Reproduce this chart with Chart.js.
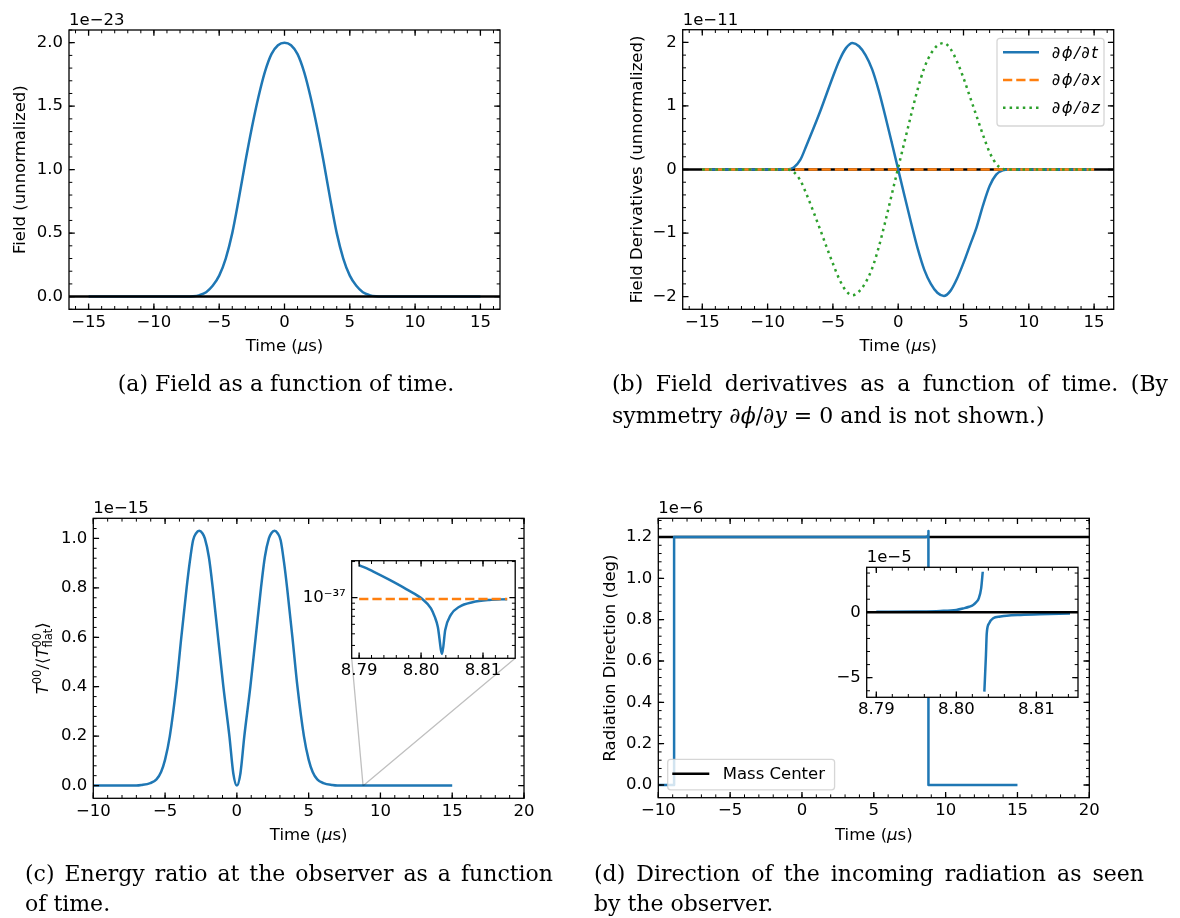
<!DOCTYPE html>
<html lang="en">
<head>
<meta charset="utf-8">
<title>Field, derivatives, energy ratio and radiation direction</title>
<script src="https://cdn.jsdelivr.net/npm/chart.js@4.4.1/dist/chart.umd.min.js"></script>
<style>
  body { margin: 0; background: #fff; }
  #page { position: relative; width: 1180px; height: 918px; overflow: hidden; background: #fff; }
  #page canvas { position: absolute; left: 0; top: 0; }
  .cap { position: absolute; font-family: "DejaVu Serif", serif; font-size: 22px; color: #000; }
  .just { text-align: justify; text-align-last: justify; }
</style>
</head>
<body>
<div id="page">
  <canvas id="figA" width="1180" height="918"></canvas>
  <canvas id="figB" width="1180" height="918"></canvas>
  <canvas id="figC" width="1180" height="918"></canvas>
  <canvas id="figD" width="1180" height="918"></canvas>
  <canvas id="zoomC" width="1180" height="918"></canvas>
  <canvas id="zoomD" width="1180" height="918"></canvas>

  <div class="cap" style="left:0;top:368px;width:572px;line-height:32px;text-align:center">(a) Field as a function of time.</div>
  <div class="cap" style="left:612px;top:368px;width:556px;line-height:32px">
    <div class="just">(b) Field derivatives as a function of time. (By</div>
    <div>symmetry <i>∂ϕ</i>/<i>∂y</i> = 0 and is not shown.)</div>
  </div>
  <div class="cap" style="left:25px;top:859px;width:528px;line-height:30px">
    <div class="just">(c) Energy ratio at the observer as a function</div>
    <div>of time.</div>
  </div>
  <div class="cap" style="left:594px;top:859px;width:550px;line-height:30px">
    <div class="just">(d) Direction of the incoming radiation as seen</div>
    <div>by the observer.</div>
  </div>
</div>
<script>
// ---------- data ----------
// (a) field at the observer, units of 1e-23
const fieldT = [-15, -7.5, -7, -6.5, -6, -5.5, -5, -4.5, -4, -3.5, -3, -2.5, -2, -1.5, -1, -0.5, 0,
                0.5, 1, 1.5, 2, 2.5, 3, 3.5, 4, 4.5, 5, 5.5, 6, 6.5, 7, 7.5, 15];
const fieldV = [0, 0, 0.002, 0.012, 0.035, 0.085, 0.165, 0.30, 0.50, 0.77, 1.06, 1.33, 1.57, 1.77, 1.91, 1.98, 2.0,
                1.98, 1.91, 1.77, 1.57, 1.33, 1.06, 0.77, 0.50, 0.30, 0.165, 0.085, 0.035, 0.012, 0.002, 0, 0];

// (b) field derivatives, units of 1e-11
const derivT = [-15, -10, -8.5, -8, -7.5, -7, -6.5, -6, -5.5, -5, -4.5, -4, -3.5, -3, -2.5, -2, -1.5, -1, -0.5, 0,
                0.5, 1, 1.5, 2, 2.5, 3, 3.5, 4, 4.5, 5, 5.5, 6, 6.5, 7, 7.5, 8, 8.5, 10, 15];
const dPhiDt = [0, 0, 0, 0.03, 0.15, 0.39, 0.64, 0.90, 1.18, 1.46, 1.72, 1.91, 1.99, 1.94, 1.80, 1.58, 1.25, 0.85, 0.43, 0,
                -0.43, -0.85, -1.25, -1.58, -1.80, -1.94, -1.99, -1.91, -1.72, -1.47, -1.19, -0.91, -0.56, -0.26, -0.08, -0.015, 0, 0, 0];
const dPhiDz = [0, 0, 0, -0.04, -0.17, -0.40, -0.66, -0.93, -1.21, -1.48, -1.73, -1.91, -1.98, -1.92, -1.78, -1.56, -1.23, -0.83, -0.40, 0.03,
                0.45, 0.87, 1.27, 1.60, 1.82, 1.95, 1.99, 1.90, 1.70, 1.44, 1.14, 0.84, 0.54, 0.27, 0.09, 0.01, 0, 0, 0];
const dPhiDxT = [-15, 15];
const dPhiDx = [0, 0];

// (c) energy ratio, units of 1e-15
const energyT = [-15, -7, -6.65, -6.03, -5.6, -5.28, -5.0, -4.67, -4.22, -3.87, -3.5, -3.28, -3.05, -2.85, -2.62, -2.4, -2.23, -1.95, -1.68, -1.31, -0.94, -0.52, -0.25, 0,
                 0.25, 0.52, 0.94, 1.31, 1.68, 1.95, 2.23, 2.4, 2.62, 2.85, 3.05, 3.28, 3.5, 3.87, 4.22, 4.67, 5.0, 5.28, 5.6, 6.03, 6.65, 7, 15];
const energyV = [0, 0, 0.002, 0.01, 0.025, 0.055, 0.105, 0.2, 0.4, 0.6, 0.8, 0.905, 0.993, 1.02, 1.031, 1.021, 1.0, 0.925, 0.8, 0.6, 0.4, 0.2, 0.05, 0,
                 0.05, 0.2, 0.4, 0.6, 0.8, 0.925, 1.0, 1.021, 1.031, 1.02, 0.993, 0.905, 0.8, 0.6, 0.4, 0.2, 0.105, 0.055, 0.025, 0.01, 0.002, 0, 0];

// (c) inset around 8.8 us, absolute values on a log axis
const zoomCT = [8.7900, 8.7923, 8.7950, 8.7976, 8.8002, 8.8016, 8.8022, 8.8027, 8.8034, 8.8039, 8.8048, 8.8062, 8.8083, 8.8110, 8.8139];
const zoomCV = [1.87e-37, 1.65e-37, 1.40e-37, 1.18e-37, 9.75e-38, 8.16e-38, 6.95e-38, 5.73e-38, 3.40e-38, 5.38e-38, 7.18e-38, 8.41e-38, 9.16e-38, 9.57e-38, 9.72e-38];
const flatT = [8.7900, 8.8139];
const flatV = [9.75e-38, 9.75e-38];

// (d) radiation direction, units of 1e-6 deg
const dirT = [-15, -8.9, -8.9, 8.6, 8.75, 8.8, 8.8033, 8.8035, 15];
const dirV = [0, 0, 1.2, 1.2, 1.203, 1.212, 1.229, 0, 0];
const massT = [-10, 20];
const massV = [1.2, 1.2];

// (d) inset around 8.8 us, units of 1e-5
const zoomDUpT = [8.7900, 8.7950, 8.7980, 8.8000, 8.8009, 8.8016, 8.8021, 8.8025, 8.8028, 8.8031, 8.8033];
const zoomDUpV = [0.04, 0.06, 0.10, 0.18, 0.30, 0.42, 0.56, 0.78, 1.07, 1.83, 3.1];
const zoomDLowT = [8.8035, 8.8037, 8.8038, 8.8041, 8.8046, 8.8055, 8.8063, 8.8080, 8.8104, 8.8142];
const zoomDLowV = [-6.07, -3.26, -1.61, -0.84, -0.46, -0.33, -0.26, -0.20, -0.15, -0.10];
const zoomMassT = [8.7888, 8.8152];
const zoomMassV = [0, 0];

// ---------- ticks ----------
const abXTicks = [-15, -10, -5, 0, 5, 10, 15];
const abXLabels = ['−15', '−10', '−5', '0', '5', '10', '15'];
const aYTicks = [0, 0.5, 1, 1.5, 2];
const aYLabels = ['0.0', '0.5', '1.0', '1.5', '2.0'];
const bYTicks = [-2, -1, 0, 1, 2];
const bYLabels = ['−2', '−1', '0', '1', '2'];
const cdXTicks = [-10, -5, 0, 5, 10, 15, 20];
const cdXLabels = ['−10', '−5', '0', '5', '10', '15', '20'];
const cYTicks = [0, 0.2, 0.4, 0.6, 0.8, 1.0];
const cYLabels = ['0.0', '0.2', '0.4', '0.6', '0.8', '1.0'];
const dYTicks = [0, 0.2, 0.4, 0.6, 0.8, 1.0, 1.2];
const dYLabels = ['0.0', '0.2', '0.4', '0.6', '0.8', '1.0', '1.2'];
const zoomXTicks = [8.79, 8.80, 8.81];
const zoomXLabels = ['8.79', '8.80', '8.81'];
const zoomCYTicks = [1e-37];
const zoomCYLabels = ['10⁻³⁷'];
const zoomDYTicks = [-5, 0];
const zoomDYLabels = ['−5', '0'];

// ---------- layout ----------
const W = 1180, H = 918, YW = 60, XH = 50;
const BOX_A = { l: 69, t: 30, r: 500, b: 309.3 };
const BOX_B = { l: 682.7, t: 29.7, r: 1113.7, b: 309.3 };
const BOX_C = { l: 93.3, t: 518.3, r: 524, b: 798.3 };
const BOX_D = { l: 658.3, t: 518.3, r: 1089.3, b: 797.7 };
const BOX_ZC = { l: 351.7, t: 560.7, r: 515.2, b: 658.3 };
const BOX_ZD = { l: 866.7, t: 567.3, r: 1078, b: 697.3 };
const ZOOM_X = [8.7888, 8.8152];

const BLUE = '#1f77b4', ORANGE = '#ff7f0e', GREEN = '#2ca02c';
const fnt = (size, italic) => (italic ? 'italic ' : '') + size + 'px "DejaVu Sans"';

function pts(T, V) { return T.map((t, i) => ({ x: t, y: V[i] })); }
function steps(a, b, s) {
  const out = [];
  for (let v = a; v <= b + s / 1000; v += s) out.push(+v.toFixed(6));
  return out;
}

function line(T, V, color, extra) {
  return Object.assign({
    data: pts(T, V), showLine: true, borderColor: color, borderWidth: 2.5,
    pointRadius: 0, fill: false, tension: 0, borderCapStyle: 'butt', borderJoinStyle: 'round'
  }, extra || {});
}
const smooth = { cubicInterpolationMode: 'monotone' };

function axis(min, max, ticks, labels, pad, isX, type) {
  return {
    type: type || 'linear', min, max, bounds: 'data', position: isX ? 'bottom' : 'left',
    grid: { display: false, drawTicks: false }, border: { display: false },
    ticks: {
      autoSkip: false, maxRotation: 0, minRotation: 0, padding: pad, color: '#000',
      font: { family: 'DejaVu Sans', size: 16.5 },
      callback: (v, i) => labels[i]
    },
    afterBuildTicks: s => { s.ticks = ticks.map(v => ({ value: v })); },
    afterFit: s => { if (isX) s.height = XH; else s.width = YW; }
  };
}

function richText(ctx, parts, x, y, align, rot) {
  ctx.save();
  ctx.translate(x, y);
  if (rot) ctx.rotate(rot);
  ctx.textAlign = 'left';
  ctx.textBaseline = 'alphabetic';
  let w = 0;
  parts.forEach(p => { ctx.font = p[1]; if (!p[3]) w += ctx.measureText(p[0]).width; });
  let cx = align === 'center' ? -w / 2 : 0;
  parts.forEach(p => {
    ctx.font = p[1];
    ctx.fillText(p[0], cx, p[2] || 0);
    if (!p[3]) cx += ctx.measureText(p[0]).width;
  });
  ctx.restore();
}

function tickMarks(ctx, a, sc, vals, len, lw) {
  ctx.lineWidth = lw;
  ctx.beginPath();
  vals.forEach(v => {
    const p = sc.getPixelForValue(v);
    if (sc.isHorizontal()) {
      if (p < a.left - 0.5 || p > a.right + 0.5) return;
      ctx.moveTo(p, a.bottom); ctx.lineTo(p, a.bottom - len);
      ctx.moveTo(p, a.top); ctx.lineTo(p, a.top + len);
    } else {
      if (p < a.top - 0.5 || p > a.bottom + 0.5) return;
      ctx.moveTo(a.left, p); ctx.lineTo(a.left + len, p);
      ctx.moveTo(a.right, p); ctx.lineTo(a.right - len, p);
    }
  });
  ctx.stroke();
}

function drawLegend(ctx, L) {
  ctx.save();
  ctx.beginPath();
  if (ctx.roundRect) ctx.roundRect(L.x, L.y, L.w, L.h, 3); else ctx.rect(L.x, L.y, L.w, L.h);
  ctx.fillStyle = 'rgba(255,255,255,0.8)';
  ctx.fill();
  ctx.lineWidth = 1.3;
  ctx.strokeStyle = 'rgba(204,204,204,0.8)';
  ctx.stroke();
  L.items.forEach((it, i) => {
    const yy = L.rows[i];
    ctx.beginPath();
    ctx.setLineDash(it.dash || []);
    ctx.lineCap = 'butt';
    ctx.strokeStyle = it.color;
    ctx.lineWidth = 2.5;
    ctx.moveTo(L.hx1, yy); ctx.lineTo(L.hx2, yy);
    ctx.stroke();
    ctx.setLineDash([]);
    ctx.fillStyle = '#000';
    ctx.font = it.font;
    ctx.textBaseline = 'middle';
    ctx.textAlign = 'left';
    if ('letterSpacing' in ctx) ctx.letterSpacing = (it.spacing || 0) + 'px';
    ctx.fillText(it.label, L.tx, yy + 1);
    if ('letterSpacing' in ctx) ctx.letterSpacing = '0px';
  });
  ctx.restore();
}

// matplotlib-style frame: inward ticks on all sides, offset text, titles, legend
function mplAxes(d) {
  return {
    id: 'mplAxes',
    beforeDraw(chart) {
      if (!d.white) return;
      const a = chart.chartArea, ctx = chart.ctx;
      ctx.save();
      ctx.fillStyle = '#fff';
      ctx.fillRect(a.left, a.top, a.width, a.height);
      ctx.restore();
    },
    afterDatasetsDraw(chart) { if (d.under) d.under(chart); },
    afterDraw(chart) {
      const { ctx, chartArea: a, scales: { x, y } } = chart;
      ctx.save();
      ctx.strokeStyle = '#000';
      tickMarks(ctx, a, x, d.xMinor || [], 3.3, 1);
      tickMarks(ctx, a, y, d.yMinor || [], 3.3, 1);
      tickMarks(ctx, a, x, x.ticks.map(t => t.value), 5.8, 1.3);
      tickMarks(ctx, a, y, y.ticks.map(t => t.value), 5.8, 1.3);
      ctx.lineWidth = 1.3;
      ctx.strokeRect(a.left, a.top, a.width, a.height);
      ctx.fillStyle = '#000';
      if (d.offset) richText(ctx, [[d.offset, fnt(16.5)]], a.left, a.top - 5, 'left');
      if (d.xTitle) richText(ctx, d.xTitle, (a.left + a.right) / 2, a.bottom + 42, 'center');
      if (d.yTitle) richText(ctx, d.yTitle, a.left + d.yTitleDx, (a.top + a.bottom) / 2, 'center', -Math.PI / 2);
      if (d.legend) drawLegend(ctx, d.legend);
      ctx.restore();
    }
  };
}

function panel(id, box, xAxis, yAxis, datasets, deco) {
  return new Chart(document.getElementById(id), {
    type: 'scatter',
    data: { datasets },
    options: {
      responsive: false, animation: false, devicePixelRatio: 1, events: [],
      layout: { padding: { left: box.l - YW, top: box.t, right: W - box.r, bottom: H - box.b - XH } },
      scales: { x: xAxis, y: yAxis },
      plugins: { legend: { display: false }, tooltip: { enabled: false } }
    },
    plugins: [mplAxes(deco)]
  });
}

const timeTitle = [['Time (', fnt(16.5)], ['μ', fnt(16.5, true)], ['s)', fnt(16.5)]];

// (a)
panel('figA', BOX_A,
  axis(-16.5, 16.5, abXTicks, abXLabels, 3.5, true),
  axis(-0.1, 2.1, aYTicks, aYLabels, 6, false),
  [
    line([-16.5, 16.5], [0, 0], '#000'),
    line(fieldT, fieldV, BLUE, smooth)
  ],
  {
    xMinor: steps(-16, 16, 1), yMinor: steps(-0.1, 2.1, 0.1), offset: '1e−23',
    xTitle: timeTitle, yTitle: [['Field (unnormalized)', fnt(16.5)]], yTitleDx: -44
  });

// (b)
panel('figB', BOX_B,
  axis(-16.5, 16.5, abXTicks, abXLabels, 3.5, true),
  axis(-2.2, 2.2, bYTicks, bYLabels, 6, false),
  [
    line(derivT, dPhiDz, GREEN, Object.assign({ borderDash: [2.5, 4.1] }, smooth)),
    line(dPhiDxT, dPhiDx, ORANGE, { borderDash: [9.25, 4] }),
    line(derivT, dPhiDt, BLUE, smooth),
    line([-16.5, 16.5], [0, 0], '#000')
  ],
  {
    xMinor: steps(-16, 16, 1), yMinor: steps(-2.2, 2.2, 0.2), offset: '1e−11',
    xTitle: timeTitle, yTitle: [['Field Derivatives (unnormalized)', fnt(16.5)]], yTitleDx: -41.2,
    legend: {
      x: 997, y: 38.3, w: 107, h: 87.7, hx1: 1003, hx2: 1039, tx: 1051.8, rows: [52.3, 80, 107.7],
      items: [
        { label: '∂ϕ/∂t', color: BLUE, font: fnt(16.5, true), spacing: 1.5 },
        { label: '∂ϕ/∂x', color: ORANGE, dash: [9.25, 4], font: fnt(16.5, true), spacing: 1.5 },
        { label: '∂ϕ/∂z', color: GREEN, dash: [2.5, 4.1], font: fnt(16.5, true), spacing: 1.5 }
      ]
    }
  });

// (c)
panel('figC', BOX_C,
  axis(-10, 20, cdXTicks, cdXLabels, 3.5, true),
  axis(-0.0515, 1.0815, cYTicks, cYLabels, 6, false),
  [line(energyT, energyV, BLUE, smooth)],
  {
    xMinor: steps(-10, 20, 1), yMinor: steps(0, 1.08, 0.04), offset: '1e−15',
    xTitle: timeTitle,
    yTitle: [
      ['T', fnt(16.5, true)], ['00', fnt(11.5), -7], ['/⟨', fnt(16.5)], ['T', fnt(16.5, true)],
      ['00', fnt(11.5), -7, true], ['flat', fnt(11.5), 4], ['⟩', fnt(16.5)]
    ],
    yTitleDx: -45.8,
    // connector lines from the zoomed window to the inset corners
    under(chart) {
      const { ctx, scales: { x, y } } = chart;
      const x1 = x.getPixelForValue(ZOOM_X[0]), x2 = x.getPixelForValue(ZOOM_X[1]), y0 = y.getPixelForValue(0);
      ctx.save();
      ctx.strokeStyle = 'rgba(0,0,0,0.25)';
      ctx.lineWidth = 1.3;
      ctx.beginPath();
      ctx.moveTo(x1, y0); ctx.lineTo(BOX_ZC.l, BOX_ZC.b);
      ctx.moveTo(x2, y0); ctx.lineTo(BOX_ZC.r, BOX_ZC.b);
      ctx.stroke();
      ctx.restore();
    }
  });

// (d)
panel('figD', BOX_D,
  axis(-10, 20, cdXTicks, cdXLabels, 3.5, true),
  axis(-0.0615, 1.2905, dYTicks, dYLabels, 6, false),
  [
    line(dirT, dirV, BLUE),
    line(massT, massV, '#000')
  ],
  {
    xMinor: steps(-10, 20, 1), yMinor: steps(0, 1.28, 0.04), offset: '1e−6',
    xTitle: timeTitle, yTitle: [['Radiation Direction (deg)', fnt(16.5)]], yTitleDx: -43.3,
    legend: {
      x: 667.7, y: 759.3, w: 166.9, h: 30.5, hx1: 672.3, hx2: 709.3, tx: 722.7, rows: [773.8],
      items: [{ label: 'Mass Center', color: '#000', font: fnt(16.5) }]
    }
  });

// (c) inset
panel('zoomC', BOX_ZC,
  axis(ZOOM_X[0], ZOOM_X[1], zoomXTicks, zoomXLabels, 2.5, true),
  axis(3.126e-38, 2.033e-37, zoomCYTicks, zoomCYLabels, 6, false, 'logarithmic'),
  [
    line(flatT, flatV, ORANGE, { borderDash: [9.25, 4] }),
    line(zoomCT, zoomCV, BLUE, smooth)
  ],
  {
    white: true, xMinor: steps(8.788, 8.816, 0.002),
    yMinor: [4e-38, 5e-38, 6e-38, 7e-38, 8e-38, 9e-38, 2e-37]
  });

// (d) inset
panel('zoomD', BOX_ZD,
  axis(ZOOM_X[0], ZOOM_X[1], zoomXTicks, zoomXLabels, 2.5, true),
  axis(-6.5, 3.44, zoomDYTicks, zoomDYLabels, 6, false),
  [
    line(zoomMassT, zoomMassV, '#000'),
    line(zoomDUpT, zoomDUpV, BLUE, smooth),
    line(zoomDLowT, zoomDLowV, BLUE, smooth)
  ],
  {
    white: true, xMinor: steps(8.788, 8.816, 0.002), yMinor: steps(-6, 3, 1), offset: '1e−5'
  });
</script>
</body>
</html>
